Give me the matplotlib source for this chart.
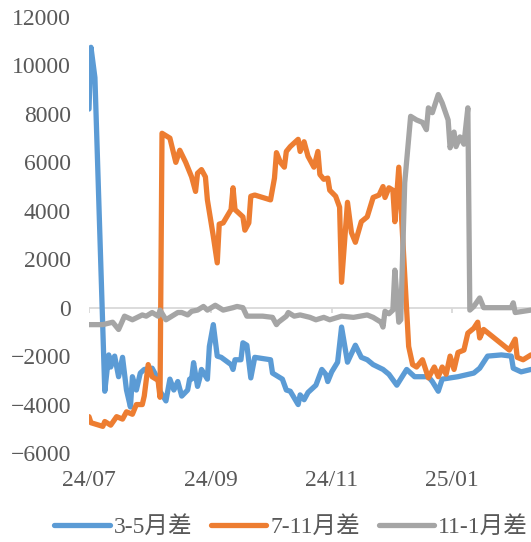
import numpy as np
import pandas as pd
import matplotlib
matplotlib.use("Agg")
import matplotlib.pyplot as plt
import matplotlib.dates as mdates
from matplotlib.lines import Line2D

BLUE = "#5B9BD5"
ORANGE = "#ED7D31"
GRAY = "#A5A5A5"
TXT = "#595959"
ZERO = "#D9D9D9"
FONT = ["Liberation Serif", "Noto Sans CJK SC"]

# 3-5月差
d35 = ["2024-07-01", "2024-07-02", "2024-07-04", "2024-07-09", "2024-07-11", "2024-07-12",
       "2024-07-14", "2024-07-16", "2024-07-18", "2024-07-20", "2024-07-22", "2024-07-23",
       "2024-07-25", "2024-07-27", "2024-07-29", "2024-08-02", "2024-08-05", "2024-08-06",
       "2024-08-09", "2024-08-11", "2024-08-13", "2024-08-15", "2024-08-17", "2024-08-20",
       "2024-08-21", "2024-08-22", "2024-08-23", "2024-08-25", "2024-08-26", "2024-08-27",
       "2024-08-30", "2024-08-31", "2024-09-02", "2024-09-04", "2024-09-06", "2024-09-11",
       "2024-09-12", "2024-09-13", "2024-09-16", "2024-09-17", "2024-09-19", "2024-09-21",
       "2024-09-23", "2024-10-01", "2024-10-02", "2024-10-07", "2024-10-09", "2024-10-11",
       "2024-10-15", "2024-10-16", "2024-10-18", "2024-10-20", "2024-10-24", "2024-10-27",
       "2024-10-29", "2024-10-30", "2024-11-01", "2024-11-04", "2024-11-06", "2024-11-09",
       "2024-11-13", "2024-11-16", "2024-11-19", "2024-11-22", "2024-11-27", "2024-11-30",
       "2024-12-04", "2024-12-09", "2024-12-13", "2024-12-20", "2024-12-22", "2024-12-25",
       "2024-12-27", "2025-01-04", "2025-01-12", "2025-01-15", "2025-01-19", "2025-01-26",
       "2025-01-31", "2025-02-01", "2025-02-05", "2025-02-10"]
v35 = [8200, 10750, 9500, -3450, -1950, -2450,
       -2000, -2850, -2050, -3400, -4100, -2850,
       -3400, -2700, -2550, -2500, -2950, -3450,
       -3850, -2950, -3400, -3050, -3650, -3400,
       -2950, -2950, -2270, -3250, -2950, -2550,
       -2950, -1600, -700, -2000, -2050, -2350,
       -2550, -2150, -2150, -1450, -1550, -2900,
       -2050, -2150, -2700, -2950, -3400, -3450,
       -4000, -3600, -3800, -3500, -3200, -2550,
       -2750, -3050, -2650, -2250, -800, -2250,
       -1550, -2050, -2150, -2350, -2550, -2750,
       -3200, -2550, -2850, -2850, -3050, -3450,
       -2950, -2850, -2700, -2500, -2000, -1950,
       -2000, -2500, -2650, -2550]

# 7-11月差
d711 = ["2024-07-01", "2024-07-02", "2024-07-08", "2024-07-09", "2024-07-12", "2024-07-15",
        "2024-07-18", "2024-07-20", "2024-07-23", "2024-07-25", "2024-07-28", "2024-07-29",
        "2024-07-31", "2024-08-02", "2024-08-05", "2024-08-06", "2024-08-07", "2024-08-11",
        "2024-08-14", "2024-08-16", "2024-08-19", "2024-08-20", "2024-08-22", "2024-08-24",
        "2024-08-25", "2024-08-27", "2024-08-29", "2024-08-30", "2024-09-02", "2024-09-04",
        "2024-09-05", "2024-09-07", "2024-09-11", "2024-09-12", "2024-09-13", "2024-09-17",
        "2024-09-18", "2024-09-20", "2024-09-21", "2024-09-23", "2024-10-01", "2024-10-03",
        "2024-10-04", "2024-10-06", "2024-10-08", "2024-10-09", "2024-10-11", "2024-10-15",
        "2024-10-16", "2024-10-18", "2024-10-20", "2024-10-23", "2024-10-25", "2024-10-26",
        "2024-10-28", "2024-10-30", "2024-10-31", "2024-11-03", "2024-11-05", "2024-11-06",
        "2024-11-09", "2024-11-11", "2024-11-13", "2024-11-16", "2024-11-19", "2024-11-22",
        "2024-11-25", "2024-11-27", "2024-11-28", "2024-11-30", "2024-12-02", "2024-12-03",
        "2024-12-05", "2024-12-10", "2024-12-12", "2024-12-14", "2024-12-17", "2024-12-20",
        "2024-12-23", "2024-12-25", "2024-12-27", "2024-12-29", "2024-12-31", "2025-01-02",
        "2025-01-04", "2025-01-07", "2025-01-09", "2025-01-12", "2025-01-14", "2025-01-15",
        "2025-01-17", "2025-01-30", "2025-02-02", "2025-02-03", "2025-02-06", "2025-02-10"]
v711 = [-4500, -4750, -4900, -4700, -4850, -4500,
        -4600, -4300, -4400, -4000, -4000, -3650,
        -2350, -2850, -3000, -3700, 7200, 7000,
        6000, 6500, 6000, 5800, 5400, 4800,
        5550, 5700, 5400, 4450, 2950, 1850,
        3450, 3500, 4050, 4950, 4050, 3750,
        3200, 3500, 4600, 4650, 4450, 5350,
        6400, 6000, 5800, 6450, 6650, 6950,
        6450, 6850, 6250, 5800, 6450, 5500,
        5300, 5350, 4850, 4600, 4150, 1050,
        4350, 3100, 2700, 3550, 3750, 4550,
        4650, 5000, 4550, 4950, 4850, 3550,
        5800, -1600, -2350, -2450, -2150, -2900,
        -2450, -2850, -2450, -2750, -2000, -2550,
        -1850, -1750, -1050, -850, -600, -1250,
        -900, -1750, -1300, -2050, -2150, -1950]

# 11-1月差
d111 = ["2024-07-01", "2024-07-08", "2024-07-13", "2024-07-16", "2024-07-19", "2024-07-23",
        "2024-07-28", "2024-07-30", "2024-08-02", "2024-08-05", "2024-08-06", "2024-08-09",
        "2024-08-12", "2024-08-15", "2024-08-17", "2024-08-20", "2024-08-22", "2024-08-25",
        "2024-08-28", "2024-08-30", "2024-09-03", "2024-09-07", "2024-09-12", "2024-09-14",
        "2024-09-17", "2024-09-19", "2024-09-27", "2024-10-02", "2024-10-04", "2024-10-05",
        "2024-10-09", "2024-10-10", "2024-10-13", "2024-10-16", "2024-10-21", "2024-10-24",
        "2024-10-28", "2024-10-31", "2024-11-04", "2024-11-06", "2024-11-12", "2024-11-19",
        "2024-11-22", "2024-11-26", "2024-11-27", "2024-11-28", "2024-11-30", "2024-12-02",
        "2024-12-03", "2024-12-05", "2024-12-06", "2024-12-08", "2024-12-11", "2024-12-14",
        "2024-12-17", "2024-12-19", "2024-12-20", "2024-12-22", "2024-12-25", "2024-12-27",
        "2024-12-30", "2024-12-31", "2025-01-02", "2025-01-03", "2025-01-05", "2025-01-07",
        "2025-01-09", "2025-01-10", "2025-01-12", "2025-01-15", "2025-01-17", "2025-01-31",
        "2025-02-01", "2025-02-02", "2025-02-06", "2025-02-10"]
v111 = [-700, -700, -600, -900, -350, -500,
        -300, -350, -200, -350, -100, -500,
        -350, -200, -200, -300, -150, -100,
        50, -100, 100, -100, 0, 50,
        0, -350, -350, -400, -700, -600,
        -350, -200, -350, -300, -400, -500,
        -400, -500, -400, -350, -400, -300,
        -400, -600, -800, -150, -250, -100,
        1550, -600, -500, 5150, 7900, 7750,
        7650, 7350, 8250, 8050, 8800, 8450,
        7750, 6600, 7250, 6650, 7050, 6750,
        8250, -100, 50, 400, 0, 0,
        200, -200, -150, -100]

series = [("3-5月差", d35, v35, BLUE),
          ("7-11月差", d711, v711, ORANGE),
          ("11-1月差", d111, v111, GRAY)]

fig = plt.figure(figsize=(5.31, 5.42), dpi=100)
ax = fig.add_axes([0.1676, 0.1642, 0.8324, 0.8044])

start, end = pd.Timestamp("2024-07-01"), pd.Timestamp("2025-02-10")
ticks = pd.date_range("2024-07-01", "2025-01-01", freq="2MS")

# zero line with small tick marks
ax.axhline(0, color=ZERO, lw=1.3, zorder=1)
ax.vlines(ticks, -220, 0, color=ZERO, lw=1.3, zorder=1)

handles = []
for i, (name, d, v, c) in enumerate(series):
    ax.plot(pd.to_datetime(d), v, color=c, lw=3.8, solid_joinstyle="round",
            solid_capstyle="round", zorder=2 + i)
    handles.append(Line2D([0], [0], color=c, lw=3.8, solid_capstyle="round", label=name))

ax.set_xlim(start, end)
ax.set_ylim(-6000, 12000)
ax.set_yticks(np.arange(-6000, 12001, 2000))
ax.set_xticks(ticks)
ax.xaxis.set_major_formatter(mdates.DateFormatter("%y/%m"))
ax.tick_params(axis="both", length=0, labelcolor=TXT, labelsize=17)
ax.tick_params(axis="y", pad=13)
ax.tick_params(axis="x", pad=12)
for lab in ax.get_xticklabels() + ax.get_yticklabels():
    lab.set_family(FONT)
for s in ax.spines.values():
    s.set_visible(False)

leg = fig.legend(handles=handles, loc="center", bbox_to_anchor=(0.548, 0.028), ncol=3,
                 frameon=False, handlelength=2.35, handletextpad=0.15, columnspacing=0.8,
                 prop={"family": FONT, "size": 17})
for t in leg.get_texts():
    t.set_color(TXT)

fig.savefig("out.png", dpi=100)
